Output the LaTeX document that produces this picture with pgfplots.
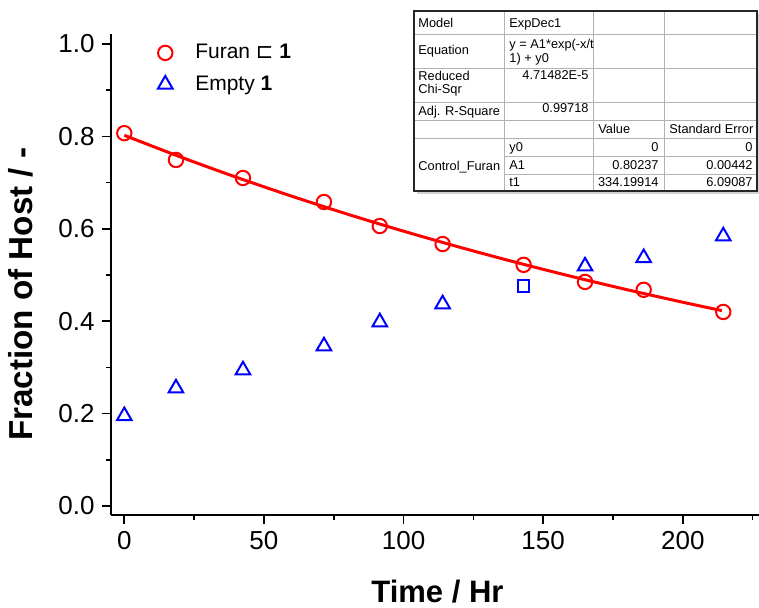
\documentclass[border=0pt]{standalone}
\usepackage{fontspec}
\setmainfont{Liberation Sans}
\newfontfamily\dejavu{DejaVu Sans}
\usepackage{pgfplots}
\pgfplotsset{compat=1.18}

% table font
\newcommand\tbl{\fontsize{6.4}{7.6}\selectfont}

\begin{document}
\begin{tikzpicture}
\begin{axis}[
    scale only axis,
    width=324.15pt, height=240.5pt,
    xmin=-4.87, xmax=227.3,
    ymin=-0.0195, ymax=1.0216,
    axis x line*=bottom, axis y line*=left,
    axis line style={line width=1pt},
    xtick={0,50,100,150,200},
    minor xtick={25,75,125,175,225},
    ytick={0,0.2,0.4,0.6,0.8,1.0},
    minor ytick={0.1,0.3,0.5,0.7,0.9},
    tick align=outside,
    major tick length=4.5pt, minor tick length=2.5pt,
    tick style={black, line width=0.8pt},
    /pgf/number format/assume math mode=true,
    ticklabel style={font=\fontsize{13}{15}\selectfont},
    yticklabel style={/pgf/number format/fixed, /pgf/number format/fixed zerofill, /pgf/number format/precision=1},
    xlabel={Time / Hr},
    ylabel={Fraction of Host / -},
    xlabel style={at={(axis description cs:0.504,-0.181)}, anchor=base, font=\bfseries\fontsize{15.5}{18}\selectfont},
    ylabel style={at={(axis description cs:-0.12,0.459)}, anchor=base, font=\bfseries\fontsize{16.6}{19}\selectfont},
    legend style={at={(axis description cs:0.062,0.988)}, anchor=north west, draw=none, fill=none,
        font=\fontsize{10.5}{12}\selectfont, row sep=3pt, inner sep=0pt},
    legend cell align=left,
    legend image code/.code={\path[draw=none, fill=none] (-7pt,0pt) -- (13pt,0pt); \draw plot coordinates {(0pt,0pt)};},
]
% fitted curve (ExpDec1)
\addplot[red, line width=1.5pt, smooth, forget plot] coordinates {
(0,0.80237) (20,0.75575) (40,0.71185) (60,0.67050) (80,0.63156) (100,0.59487)
(120,0.56032) (140,0.52777) (160,0.49711) (180,0.46823) (200,0.44103) (214,0.42294)};
% Furan in 1
\addplot[red, only marks, mark=o, mark size=3.6pt, line width=1pt] coordinates {
(0,0.807) (18.5,0.749) (42.5,0.710) (71.5,0.658) (91.5,0.606) (114,0.567)
(143,0.522) (165,0.485) (186,0.468) (214.5,0.420)};
% Empty 1
\addplot[blue, only marks, mark=triangle, mark size=4.2pt, line width=1pt] coordinates {
(0,0.195) (18.5,0.255) (42.5,0.294) (71.5,0.346) (91.5,0.398) (114,0.437)
(165,0.519) (186,0.537) (214.5,0.584)};
\addplot[blue, only marks, mark=square, mark size=2.8pt, line width=1pt, forget plot] coordinates {
(143,0.476)};
\legend{Furan {\dejavu ⊏} \textbf{1}, Empty \textbf{1}}
\end{axis}

% fit report table, pixel coordinates of the figure
\begin{scope}[shift={(-55.35pt,257.5pt)}, x=0.5pt, y=-0.5pt]
\fill[black!18] (417,14) rectangle (760,194);
\fill[white] (414,11) rectangle (757,191);
\begin{scope}[black!30, line width=0.5pt]
\foreach \yy in {34,68,102,120,138} \draw (414,\yy) -- (757,\yy);
\foreach \yy in {156,174} \draw (504,\yy) -- (757,\yy);
\foreach \xx in {504,593,664} \draw (\xx,11) -- (\xx,191);
\end{scope}
\draw[black!85, line width=0.8pt] (414,11) rectangle (757,191);
\begin{scope}[every node/.style={inner sep=0pt, font=\tbl}]
\node[anchor=base west] at (418,27) {Model};
\node[anchor=base west] at (509,27) {ExpDec1};
\node[anchor=base west] at (418,54.5) {Equation};
\node[anchor=base west] at (509,48.8) {y = A1*exp(-x/t};
\node[anchor=base west] at (509,62) {1) + y0};
\node[anchor=base west] at (418,80.5) {Reduced};
\node[anchor=base west] at (418,93) {Chi-Sqr};
\node[anchor=base east] at (589,79.5) {4.71482E-5};
\node[anchor=base west] at (418,115.5) {Adj. R-Square};
\node[anchor=base east] at (589,112) {0.99718};
\node[anchor=base west] at (598,133.5) {Value};
\node[anchor=base west] at (669,133.5) {Standard Error};
\node[anchor=base west] at (418,170) {Control\_Furan};
\node[anchor=base west] at (509,151.5) {y0};
\node[anchor=base west] at (509,169.5) {A1};
\node[anchor=base west] at (509,186.5) {t1};
\node[anchor=base east] at (659,151.5) {0};
\node[anchor=base east] at (659,169.5) {0.80237};
\node[anchor=base east] at (659,186.5) {334.19914};
\node[anchor=base east] at (753,151.5) {0};
\node[anchor=base east] at (753,169.5) {0.00442};
\node[anchor=base east] at (753,186.5) {6.09087};
\end{scope}
\end{scope}

\pgfresetboundingbox
\useasboundingbox (-55.35pt,-46pt) rectangle (324.15pt,257.5pt);
\end{tikzpicture}
\end{document}
